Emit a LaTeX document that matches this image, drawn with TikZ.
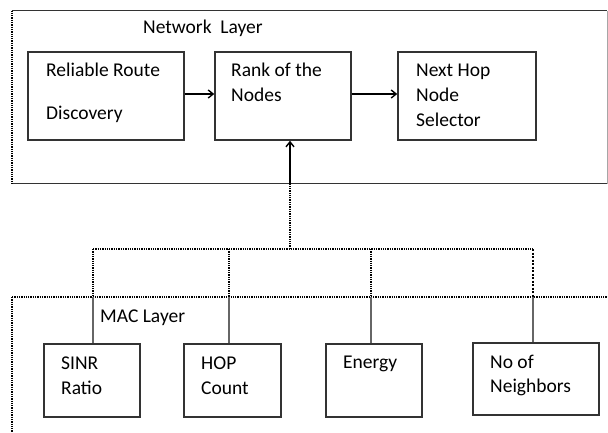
\documentclass[tikz,border=0pt]{standalone}
\usepackage{fontspec}
\setmainfont{Carlito}
\usetikzlibrary{arrows.meta}
\begin{document}
\begin{tikzpicture}[x=1pt,y=-1pt,
  box/.style={draw=black!80,line width=1.4pt,rectangle,inner sep=0pt},
  txt/.style={inner sep=0pt,anchor=base west,font=\fontsize{19.5}{22}\selectfont},
  dots/.style={line width=1.3pt,densely dotted},
  solidln/.style={draw=black!60,line width=1.6pt},
  layerline/.style={draw=black!80,line width=1.6pt},
  arr/.style={-{Straight Barb[length=5pt,width=8pt]},line width=1.4pt}
]
\useasboundingbox (0,0) rectangle (608,432);
% Network layer frame
\coordinate (f1) at (12,10.5);
\coordinate (f2) at (607,10.5);
\coordinate (f3) at (607,183.5);
\coordinate (f4) at (12,183.5);
\draw[layerline] (f1) -- (f2);
\draw[layerline] (f4) -- (f3);
\draw[dots] (f1) -- (f4);
\draw[line width=1pt,black!35] (f2) -- (f3);
\node[txt] (nl) at (143,33) {Network\ \ Layer};
% network boxes
\node[box,minimum width=156pt,minimum height=88pt] (rr) at (106,96) {};
\node[box,minimum width=136pt,minimum height=88pt] (rk) at (283,96) {};
\node[box,minimum width=138pt,minimum height=88pt] (nh) at (467,96) {};
\node[txt] (rr1) at (46,76) {Reliable Route};
\node[txt] (rr2) at (46,119) {Discovery};
\node[txt] (rk1) at (231,76) {Rank of the};
\node[txt] (rk2) at (231,101) {Nodes};
\node[txt] (nh1) at (416,76) {Next Hop};
\node[txt] (nh2) at (416,101) {Node};
\node[txt] (nh3) at (416,126) {Selector};
\draw[arr] ([yshift=2pt]rr.east) -- ([yshift=2pt]rk.west);
\draw[arr] ([yshift=2pt]rk.east) -- ([yshift=2pt]nh.west);
% MAC layer frame
\coordinate (g1) at (12,297);
\coordinate (g2) at (608,297);
\coordinate (g3) at (12,432);
\draw[dots] (g1) -- (g2);
\draw[dots] (g1) -- (g3);
\node[txt] (ml) at (100,322) {MAC Layer};
% MAC boxes
\node[box,minimum width=96pt,minimum height=73pt] (sn) at (92,380.5) {};
\node[box,minimum width=97pt,minimum height=73pt] (hp) at (232.5,380.5) {};
\node[box,minimum width=96pt,minimum height=73pt] (en) at (374,380.5) {};
\node[box,minimum width=126pt,minimum height=72pt] (nb) at (536,379) {};
\node[txt] (sn1) at (61,369) {SINR};
\node[txt] (sn2) at (61,394) {Ratio};
\node[txt] (hp1) at (201,369) {HOP};
\node[txt] (hp2) at (201,394) {Count};
\node[txt] (en1) at (343,368) {Energy};
\node[txt] (nb1) at (490,368) {No of};
\node[txt] (nb2) at (490,392) {Neighbors};
% bus
\coordinate (b0) at (93,249);
\coordinate (b1) at (229,249);
\coordinate (bc) at (290,249);
\coordinate (b2) at (371,249);
\coordinate (b3) at (533,249);
\coordinate (m0) at (93,297);
\coordinate (m1) at (229,297);
\coordinate (m2) at (371,297);
\coordinate (m3) at (533,297);
\coordinate (nbot) at (290,183.5);
\draw[dots] (b0) -- (b3);
\draw[dots] (b0) -- (m0);
\draw[dots] (b1) -- (m1);
\draw[dots] (b2) -- (m2);
\draw[line width=1.3pt,dash pattern=on 2pt off 1.5pt] (b3) -- (m3);
\draw[dots] (bc) -- (nbot);
\draw[arr] (nbot) -- (nbot |- rk.south);
\draw[solidln] (m0) -- (m0 |- sn.north);
\draw[solidln] (m1) -- (m1 |- hp.north);
\draw[solidln] (m2) -- (m2 |- en.north);
\draw[solidln] (m3) -- (m3 |- nb.north);
\end{tikzpicture}
\end{document}
